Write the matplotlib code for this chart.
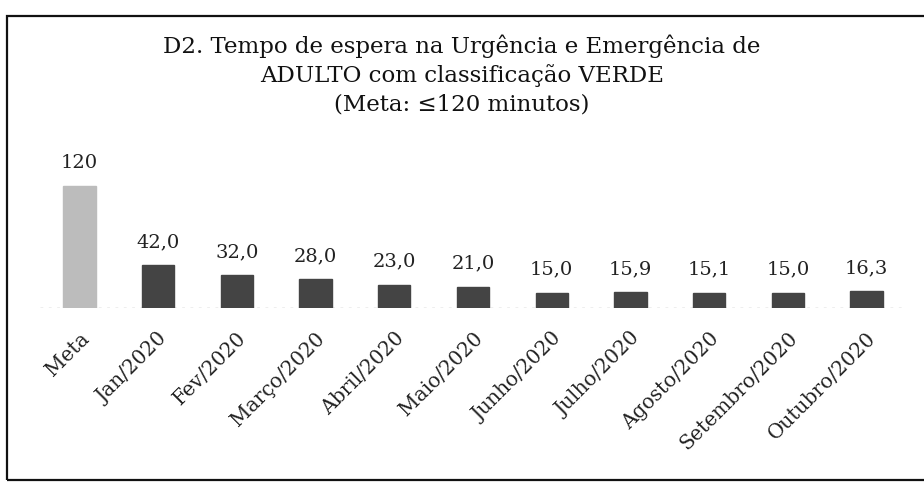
import matplotlib.pyplot as plt
from matplotlib.patches import Rectangle

# Data
categorias = ['Meta', 'Jan/2020', 'Fev/2020', 'Março/2020', 'Abril/2020', 'Maio/2020',
              'Junho/2020', 'Julho/2020', 'Agosto/2020', 'Setembro/2020', 'Outubro/2020']
valores = [120, 42.0, 32.0, 28.0, 23.0, 21.0, 15.0, 15.9, 15.1, 15.0, 16.3]
rotulos = ['120', '42,0', '32,0', '28,0', '23,0', '21,0', '15,0', '15,9', '15,1', '15,0', '16,3']

plt.rcParams['font.family'] = ['DejaVu Serif']

fig = plt.figure(figsize=(9.24, 4.86), dpi=100)
ax = fig.add_axes([40 / 924, 1 - 308 / 486, 866 / 924, 150 / 486])

cores = ['#bcbcbc'] + ['#444444'] * (len(valores) - 1)
x = range(len(categorias))
ax.bar(x, valores, width=0.41, color=cores, edgecolor=cores, zorder=2)

for i, (v, r) in enumerate(zip(valores, rotulos)):
    ax.annotate(r, (i, v), xytext=(0, 10), textcoords='offset points',
                ha='center', va='bottom', fontsize=14, color='#222222')

ax.set_xlim(-0.5, len(categorias) - 0.5)
ax.set_ylim(0, 147)
ax.axhline(0, color='#aaaaaa', lw=1, ls=(0, (2, 4)), zorder=1)

ax.set_xticks(list(x))
ax.set_xticklabels(categorias, rotation=45, ha='right', va='top', rotation_mode='anchor',
                   fontsize=14.5, color='#222222')
ax.tick_params(axis='x', length=0, pad=15)
ax.set_yticks([])
for s in ax.spines.values():
    s.set_visible(False)

fig.text(0.5, 0.93, 'D2. Tempo de espera na Urgência e Emergência de\n'
         'ADULTO com classificação VERDE\n(Meta: ≤120 minutos)',
         ha='center', va='top', fontsize=16.5, linespacing=1.36, color='#111111')

# outer frame of the scanned chart
fig.patches.append(Rectangle((7 / 924, 6 / 486), 1.0, 1 - 22 / 486,
                             transform=fig.transFigure, fill=False,
                             edgecolor='#111111', lw=1.6))

fig.savefig('out.png', dpi=100, facecolor='white')
